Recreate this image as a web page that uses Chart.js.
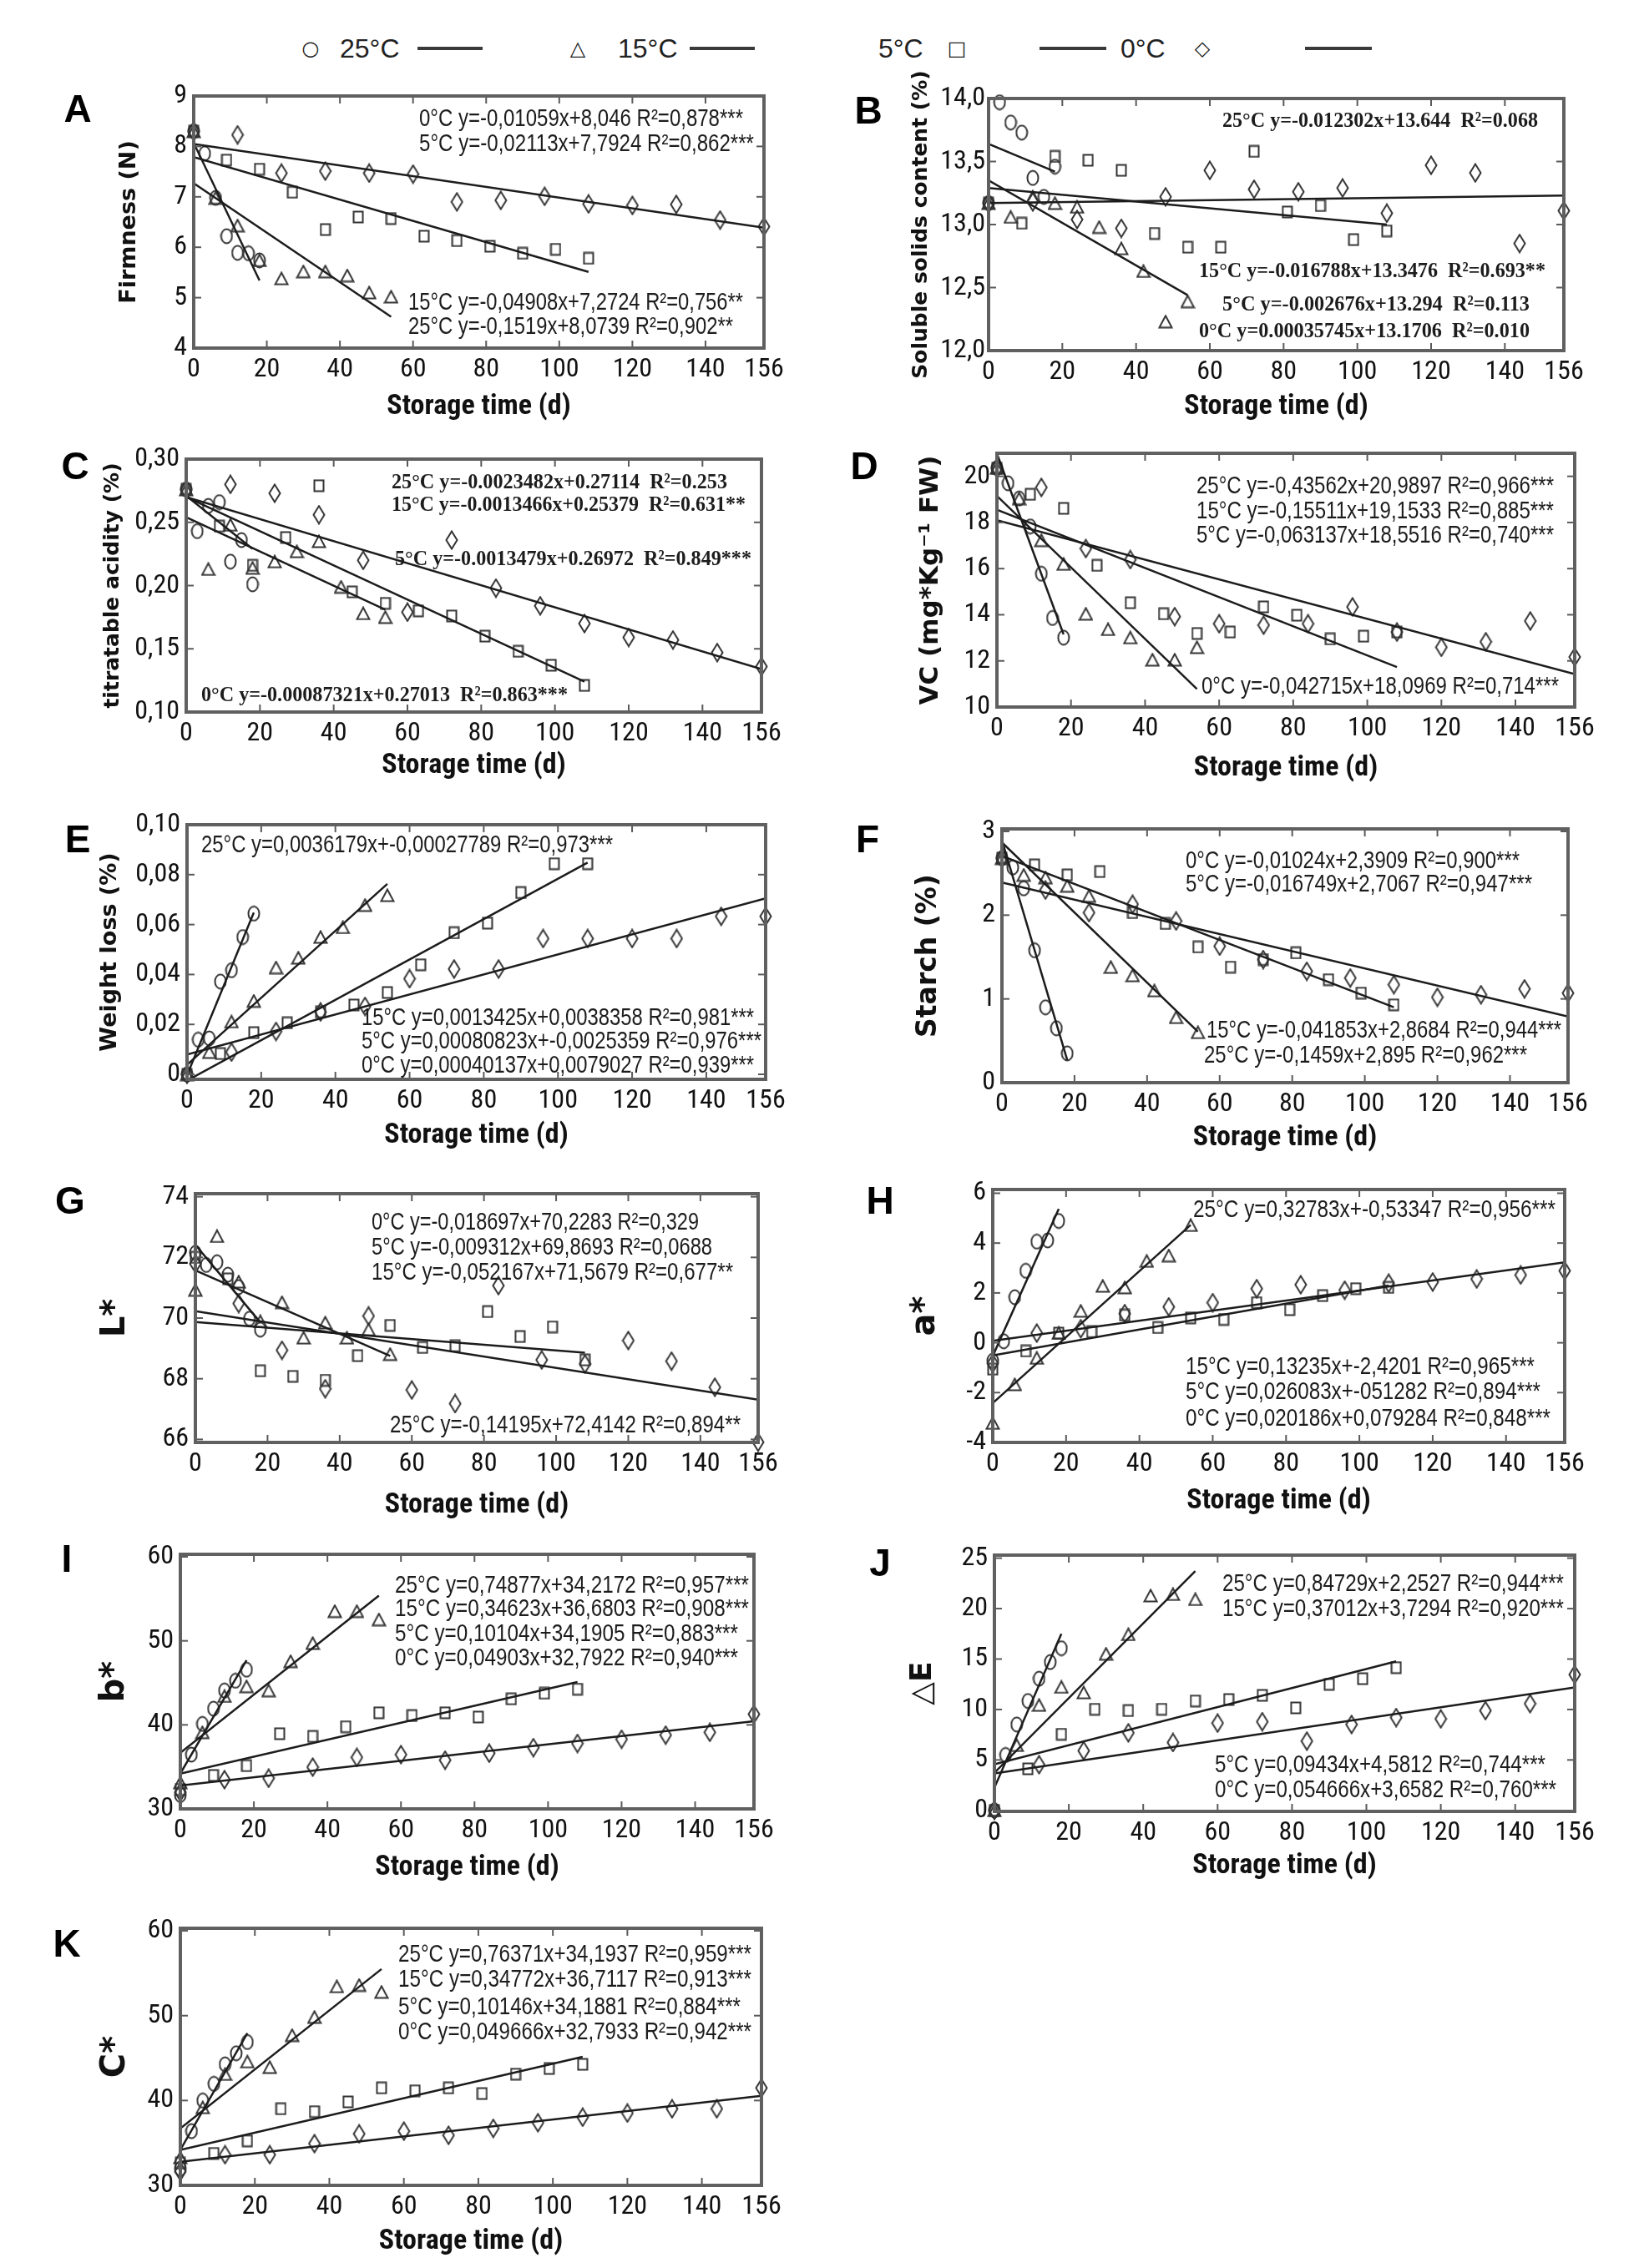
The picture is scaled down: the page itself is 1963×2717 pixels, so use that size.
<!DOCTYPE html>
<html>
<head>
<meta charset="utf-8">
<script src="https://cdn.jsdelivr.net/npm/chart.js@4.4.1/dist/chart.umd.min.js"></script>
<style>
  html, body { margin: 0; padding: 0; background: #fff; }
  #page { position: relative; width: 1963px; height: 2717px; overflow: hidden; background: #fff; }
  #page canvas { position: absolute; }
  .leg { position: absolute; top: 58px; transform: translateY(-50%); color: #222; line-height: 1; white-space: nowrap;
         font-family: "Liberation Sans", Arial, sans-serif; font-size: 32px; }
  .mark { font-family: "DejaVu Sans", sans-serif; font-size: 24px; transform: translate(-50%, -50%); }
  .bar { position: absolute; top: 56px; height: 4px; background: #3a3a3a; }
</style>
</head>
<body>
<div id="page">
  <span class="leg mark" style="left:372px">○</span>
  <span class="leg" style="left:407px">25°C</span>
  <div class="bar" style="left:500px;width:78px"></div>
  <span class="leg mark" style="left:692px">△</span>
  <span class="leg" style="left:740px">15°C</span>
  <div class="bar" style="left:826px;width:78px"></div>
  <span class="leg" style="left:1052px">5°C</span>
  <span class="leg mark" style="left:1146px">□</span>
  <div class="bar" style="left:1245px;width:80px"></div>
  <span class="leg" style="left:1342px">0°C</span>
  <span class="leg mark" style="left:1440px">◇</span>
  <div class="bar" style="left:1563px;width:80px"></div>
</div>
<script>
// sampling days of each storage temperature
const days25 = [0, 3, 6, 9, 12, 15, 18];
const days15 = [0, 6, 12, 18, 24, 30, 36, 42, 48, 54];
const days5 = [0, 9, 18, 27, 36, 45, 54, 63, 72, 81, 90, 99, 108];
const days0 = [0, 12, 24, 36, 48, 60, 72, 84, 96, 108, 120, 132, 144, 156];
const xTicks = [0, 20, 40, 60, 80, 100, 120, 140, 156];

// A - firmness
const firm25 = [8.30, 7.86, 6.98, 6.22, 5.89, 5.88, 5.74];
const firm15 = [8.30, 6.98, 6.43, 5.74, 5.38, 5.52, 5.52, 5.44, 5.10, 5.02];
const firm5 = [8.30, 7.73, 7.55, 7.09, 6.35, 6.60, 6.57, 6.22, 6.13, 6.02, 5.88, 5.96, 5.78];
const firm0 = [8.30, 8.23, 7.47, 7.51, 7.47, 7.45, 6.90, 6.93, 7.01, 6.86, 6.83, 6.85, 6.54, 6.41];
const firmFits = [[8.07, 5.34], [7.27, 4.62], [7.79, 5.51], [8.05, 6.39]];
const firmTicks = [4, 5, 6, 7, 8, 9];
const firmEq = ['0°C y=-0,01059x+8,046 R²=0,878***', '5°C y=-0,02113x+7,7924 R²=0,862***',
  '15°C y=-0,04908x+7,2724 R²=0,756**', '25°C y=-0,1519x+8,0739 R²=0,902**'];

// B - soluble solids
const ssc25 = [13.17, 13.97, 13.81, 13.73, 13.37, 13.22, 13.46];
const ssc15 = [13.17, 13.06, 13.22, 13.17, 13.14, 12.98, 12.81, 12.63, 12.23, 12.39];
const ssc5 = [13.17, 13.01, 13.54, 13.51, 13.43, 12.93, 12.82, 12.82, 13.58, 13.10, 13.15, 12.88, 12.95];
const ssc0 = [13.17, 13.18, 13.04, 12.97, 13.22, 13.43, 13.28, 13.26, 13.29, 13.09, 13.47, 13.41, 12.85, 13.11];
const sscFits = [[13.64, 13.42], [13.35, 12.44], [13.29, 13.00], [13.17, 13.23]];
const sscTicks = [12.0, 12.5, 13.0, 13.5, 14.0];
const sscEq = ['25°C y=-0.012302x+13.644  R²=0.068', '15°C y=-0.016788x+13.3476  R²=0.693**',
  '5°C y=-0.002676x+13.294  R²=0.113', '0°C y=0.00035745x+13.1706  R²=0.010'];

// C - titratable acidity
const ta25 = [0.276, 0.243, 0.263, 0.266, 0.219, 0.236, 0.201];
const ta15 = [0.276, 0.213, 0.248, 0.214, 0.219, 0.227, 0.235, 0.199, 0.178, 0.175];
const ta5 = [0.276, 0.247, 0.216, 0.238, 0.279, 0.195, 0.186, 0.180, 0.176, 0.160, 0.148, 0.137, 0.121];
const ta0 = [0.276, 0.280, 0.273, 0.256, 0.220, 0.179, 0.236, 0.198, 0.184, 0.170, 0.159, 0.157, 0.147, 0.136];
const taFits = [[0.271, 0.229], [0.254, 0.181], [0.270, 0.124], [0.270, 0.134]];
const taTicks = [0.10, 0.15, 0.20, 0.25, 0.30];
const taEq = ['25°C y=-0.0023482x+0.27114  R²=0.253', '15°C y=-0.0013466x+0.25379  R²=0.631**',
  '5°C y=-0.0013479x+0.26972  R²=0.849***', '0°C y=-0.00087321x+0.27013  R²=0.863***'];

// D - vitamin C
const vc25 = [20.36, 19.70, 19.04, 17.83, 15.78, 13.86, 13.01];
const vc15 = [20.36, 19.04, 17.23, 16.20, 14.04, 13.37, 13.01, 12.05, 12.05, 12.59];
const vc5 = [20.36, 19.22, 18.61, 16.14, 14.52, 14.04, 13.19, 13.25, 14.34, 13.98, 12.95, 13.07, 13.25];
const vc0 = [20.36, 19.52, 16.87, 16.39, 13.92, 13.61, 13.55, 13.61, 14.34, 13.25, 12.59, 12.83, 13.73, 12.17];
const vcFits = [[20.99, 13.15], [19.15, 10.78], [18.55, 11.73], [18.10, 11.43]];
const vcTicks = [10, 12, 14, 16, 18, 20];
const vcEq = ['25°C y=-0,43562x+20,9897 R²=0,966***', '15°C y=-0,15511x+19,1533 R²=0,885***',
  '5°C y=-0,063137x+18,5516 R²=0,740***', '0°C y=-0,042715x+18,0969 R²=0,714***'];

// E - weight loss
const wl25 = [0, 0.0139, 0.0144, 0.0372, 0.0417, 0.0550, 0.0644];
const wl15 = [0, 0.0089, 0.0211, 0.0294, 0.0428, 0.0467, 0.0550, 0.0589, 0.0678, 0.0717];
const wl5 = [0, 0.0083, 0.0167, 0.0206, 0.0250, 0.0278, 0.0328, 0.0439, 0.0567, 0.0606, 0.0728, 0.0844, 0.0844];
const wl0 = [0, 0.0089, 0.0172, 0.0250, 0.0272, 0.0383, 0.0422, 0.0422, 0.0544, 0.0544, 0.0544, 0.0544, 0.0633, 0.0633];
const wlFits = [[-0.0003, 0.0648], [0.0038, 0.0763], [-0.0025, 0.0848], [0.0079, 0.0705]];
const wlTicks = [0, 0.02, 0.04, 0.06, 0.08, 0.10];
const wlEq = ['25°C y=0,0036179x+-0,00027789 R²=0,973***', '15°C y=0,0013425x+0,0038358 R²=0,981***',
  '5°C y=0,00080823x+-0,0025359 R²=0,976***', '0°C y=0,00040137x+0,0079027 R²=0,939***'];

// F - starch
const st25 = [2.68, 2.57, 2.32, 1.58, 0.90, 0.65, 0.35];
const st15 = [2.68, 2.48, 2.45, 2.35, 2.23, 1.38, 1.28, 1.10, 0.78, 0.60];
const st5 = [2.68, 2.60, 2.48, 2.52, 2.03, 1.90, 1.62, 1.38, 1.47, 1.55, 1.23, 1.07, 0.93];
const st0 = [2.68, 2.30, 2.03, 2.13, 1.93, 1.63, 1.47, 1.33, 1.25, 1.17, 1.02, 1.05, 1.12, 1.07];
const stFits = [[2.895, 0.27], [2.868, 0.61], [2.707, 0.90], [2.391, 0.79]];
const stTicks = [0, 1, 2, 3];
const stEq = ['0°C y=-0,01024x+2,3909 R²=0,900***', '5°C y=-0,016749x+2,7067 R²=0,947***',
  '15°C y=-0,041853x+2,8684 R²=0,944***', '25°C y=-0,1459x+2,895 R²=0,962***'];

// G - L*
const lL25 = [72.15, 71.75, 71.84, 71.43, 71.02, 69.98, 69.62];
const lL15 = [70.93, 72.70, 71.20, 69.89, 70.52, 69.35, 69.85, 69.35, 69.62, 68.81];
const lL5 = [72.00, 71.29, 68.26, 68.08, 67.95, 68.76, 69.76, 69.03, 69.08, 70.21, 69.39, 69.71, 68.62];
const lL0 = [71.79, 70.48, 68.94, 67.67, 70.07, 67.63, 67.18, 71.07, 68.62, 68.49, 69.26, 68.58, 67.72, 65.91];
const lFits = [[72.41, 69.86], [71.57, 68.75], [69.87, 68.86], [70.23, 67.31]];
const lTicks = [66, 68, 70, 72, 74];
const lEq = ['0°C y=-0,018697x+70,2283 R²=0,329', '5°C y=-0,009312x+69,8693 R²=0,0688',
  '15°C y=-0,052167x+71,5679 R²=0,677**', '25°C y=-0,14195x+72,4142 R²=0,894**'];

// H - a*
const aA25 = [-0.72, 0.06, 1.83, 2.89, 4.06, 4.11, 4.89];
const aA15 = [-3.22, -1.67, -0.61, 0.39, 1.28, 2.28, 2.22, 3.28, 3.50, 4.72];
const aA5 = [-1.06, -0.33, 0.39, 0.44, 1.11, 0.61, 1.00, 0.94, 1.61, 1.33, 1.89, 2.17, 2.22];
const aA0 = [-0.83, 0.39, 0.56, 1.17, 1.44, 1.61, 2.17, 2.33, 2.11, 2.39, 2.44, 2.56, 2.72, 2.89];
const aFits = [[-0.53, 5.37], [-2.42, 4.73], [-0.51, 2.30], [0.08, 3.23]];
const aTicks = [-4, -2, 0, 2, 4, 6];
const aEq = ['25°C y=0,32783x+-0,53347 R²=0,956***', '15°C y=0,13235x+-2,4201 R²=0,965***',
  '5°C y=0,026083x+-051282 R²=0,894***', '0°C y=0,020186x+0,079284 R²=0,848***'];

// I - b*
const bB25 = [31.66, 36.46, 40.11, 41.93, 44.09, 45.25, 46.57];
const bB15 = [33.15, 39.11, 43.42, 44.58, 44.09, 47.57, 49.72, 53.53, 53.53, 52.54];
const bB5 = [32.32, 33.98, 35.14, 38.95, 38.62, 39.78, 41.44, 41.10, 41.44, 40.94, 43.09, 43.76, 44.25];
const bB0 = [31.99, 33.48, 33.65, 34.97, 36.13, 36.46, 35.80, 36.63, 37.29, 37.79, 38.29, 38.78, 39.11, 41.27];
const bFits = [[34.22, 47.70], [36.68, 55.38], [34.19, 45.10], [32.79, 40.44]];
const bTicks = [30, 40, 50, 60];
const bEq = ['25°C y=0,74877x+34,2172 R²=0,957***', '15°C y=0,34623x+36,6803 R²=0,908***',
  '5°C y=0,10104x+34,1905 R²=0,883***', '0°C y=0,04903x+32,7922 R²=0,940***'];

// J - delta E
const dE25 = [0, 5.49, 8.52, 10.85, 13.05, 14.70, 16.07];
const dE15 = [0, 6.46, 10.44, 12.23, 11.68, 15.52, 17.45, 21.29, 21.43, 20.93];
const dE5 = [0, 4.12, 7.55, 10.03, 9.89, 10.03, 10.85, 10.99, 11.40, 10.16, 12.50, 13.05, 14.15];
const dE0 = [0, 4.53, 5.91, 7.69, 6.73, 8.65, 8.79, 6.87, 8.52, 9.20, 9.07, 9.89, 10.58, 13.46];
const dEFits = [[2.25, 17.50], [3.73, 23.72], [4.58, 14.77], [3.66, 12.19]];
const dETicks = [0, 5, 10, 15, 20, 25];
const dEEq = ['25°C y=0,84729x+2,2527 R²=0,944***', '15°C y=0,37012x+3,7294 R²=0,920***',
  '5°C y=0,09434x+4,5812 R²=0,744***', '0°C y=0,054666x+3,6582 R²=0,760***'];

// K - C*
const cC25 = [31.97, 36.39, 40.00, 41.97, 44.26, 45.57, 46.89];
const cC15 = [33.28, 39.18, 43.11, 44.59, 43.93, 47.70, 49.84, 53.44, 53.61, 52.79];
const cC5 = [32.62, 33.77, 35.25, 39.02, 38.69, 39.84, 41.48, 41.15, 41.48, 40.82, 43.11, 43.77, 44.26];
const cC0 = [31.64, 33.61, 33.61, 34.92, 36.07, 36.39, 35.90, 36.72, 37.38, 38.03, 38.52, 39.02, 39.02, 41.48];
const cFits = [[34.19, 47.94], [36.71, 55.49], [34.19, 45.15], [32.79, 40.54]];
const cTicks = [30, 40, 50, 60];
const cEq = ['25°C y=0,76371x+34,1937 R²=0,959***', '15°C y=0,34772x+36,7117 R²=0,913***',
  '5°C y=0,10146x+34,1881 R²=0,884***', '0°C y=0,049666x+32,7933 R²=0,942***'];

const allDays = [days25, days15, days5, days0];

// layout of the 11 panels (page pixels); ts = y title font size
const panels = [
  { letter: 'A', lp: [93, 133], box: [232, 115, 915, 417], y: [4, 9], dec: 0, title: 'Firmness (N)', tx: 155, ts: 27, xdy: 70,
    vals: [firm25, firm15, firm5, firm0], fits: firmFits, ticks: firmTicks, eqs: firmEq,
    eqPos: [[502, 890, 143], [502, 903, 173], [489, 890, 363], [489, 878, 392]] },
  { letter: 'B', lp: [1040, 135], box: [1184, 118, 1873, 420], y: [12, 14], dec: 1, title: 'Soluble solids content (%)', tx: 1103, ts: 25, xdy: 67, gap: 4, serif: true,
    vals: [ssc25, ssc15, ssc5, ssc0], fits: sscFits, ticks: sscTicks, eqs: sscEq,
    eqPos: [[1464, 1842, 145], [1436, 1851, 325], [1464, 1832, 365], [1436, 1832, 397]] },
  { letter: 'C', lp: [90, 561], box: [223, 550, 912, 853], y: [0.10, 0.30], dec: 2, title: 'titratable acidity (%)', tx: 135, ts: 25, xdy: 64, serif: true,
    vals: [ta25, ta15, ta5, ta0], fits: taFits, ticks: taTicks, eqs: taEq,
    eqPos: [[469, 871, 578], [469, 893, 605], [473, 900, 670], [241, 680, 833]] },
  { letter: 'D', lp: [1035, 561], box: [1194, 543, 1886, 847], y: [10, 21], dec: 0, title: 'VC (mg*Kg⁻¹ FW)', tx: 1115, ts: 31, xdy: 73,
    vals: [vc25, vc15, vc5, vc0], fits: vcFits, ticks: vcTicks, eqs: vcEq,
    eqPos: [[1433, 1861, 583], [1433, 1861, 613], [1433, 1861, 642], [1439, 1867, 823]] },
  { letter: 'E', lp: [93, 1008], box: [224, 988, 917, 1293], y: [-0.002, 0.10], dec: 2, zero: true, title: 'Weight loss (%)', tx: 132, ts: 27, xdy: 67,
    vals: [wl25, wl15, wl5, wl0], fits: wlFits, ticks: wlTicks, eqs: wlEq,
    eqPos: [[241, 734, 1013], [433, 903, 1220], [433, 912, 1248], [433, 903, 1277]] },
  { letter: 'F', lp: [1039, 1008], box: [1200, 993, 1878, 1297], y: [0, 3.03], dec: 0, title: 'Starch (%)', tx: 1112, ts: 33, xdy: 66,
    vals: [st25, st15, st5, st0], fits: stFits, ticks: stTicks, eqs: stEq,
    eqPos: [[1420, 1820, 1032], [1420, 1835, 1060], [1445, 1870, 1235], [1442, 1829, 1265]] },
  { letter: 'G', lp: [84, 1441], box: [234, 1430, 908, 1728], y: [65.9, 74.1], dec: 0, title: 'L*', tx: 139, ts: 40, xdy: 75,
    vals: [lL25, lL15, lL5, lL0], fits: lFits, ticks: lTicks, eqs: lEq,
    eqPos: [[445, 837, 1465], [445, 853, 1495], [445, 878, 1525], [467, 887, 1708]] },
  { letter: 'H', lp: [1054, 1441], box: [1189, 1425, 1874, 1728], y: [-4, 6.15], dec: 0, title: 'a*', tx: 1109, ts: 40, xdy: 70,
    vals: [aA25, aA15, aA5, aA0], fits: aFits, ticks: aTicks, eqs: aEq,
    eqPos: [[1429, 1863, 1450], [1420, 1838, 1638], [1420, 1845, 1668], [1420, 1857, 1700]] },
  { letter: 'I', lp: [80, 1870], box: [216, 1862, 903, 2167], y: [30, 60.3], dec: 0, title: 'b*', tx: 138, ts: 40, xdy: 70,
    vals: [bB25, bB15, bB5, bB0], fits: bFits, ticks: bTicks, eqs: bEq,
    eqPos: [[473, 897, 1900], [473, 897, 1928], [473, 884, 1958], [473, 884, 1987]] },
  { letter: 'J', lp: [1054, 1875], box: [1191, 1863, 1886, 2170], y: [-0.1, 25.3], dec: 0, title: '△E', tx: 1106, ts: 36, xdy: 65,
    vals: [dE25, dE15, dE5, dE0], fits: dEFits, ticks: dETicks, eqs: dEEq,
    eqPos: [[1464, 1873, 1898], [1464, 1873, 1928], [1455, 1851, 2115], [1455, 1864, 2145]] },
  { letter: 'K', lp: [80, 2331], box: [216, 2310, 912, 2618], y: [30, 60.3], dec: 0, title: 'C*', tx: 139, ts: 40, xdy: 67,
    vals: [cC25, cC15, cC5, cC0], fits: cFits, ticks: cTicks, eqs: cEq,
    eqPos: [[477, 900, 2342], [477, 900, 2372], [477, 887, 2405], [477, 900, 2435]] }
];

const sans = '"Liberation Sans", Arial, sans-serif';
const ink = '#1c1c1c';

// use a narrow face for ticks when one is installed
function fontAvailable(name) {
  const g = document.createElement('canvas').getContext('2d');
  const s = 'mmmmmwwwlli0123456789';
  g.font = '40px monospace';
  const a = g.measureText(s).width;
  g.font = '40px "' + name + '", monospace';
  return g.measureText(s).width !== a;
}
const narrow = ['Liberation Sans Narrow', 'Roboto Condensed'].find(fontAvailable);
const tickFont = narrow ? { family: '"' + narrow + '"', size: 32 } : { family: sans, size: 28 };
const xTitleFont = narrow ? { family: '"' + narrow + '"', size: 34, weight: 'bold' } : { family: sans, size: 28, weight: 'bold' };

// hollow markers, a bit taller than wide like the printed glyphs
function marker(kind) {
  const w = { o: 16, t: 18, s: 14, d: 16 }[kind];
  const h = { o: 20, t: 17, s: 16, d: 24 }[kind];
  const c = document.createElement('canvas');
  c.width = w; c.height = h;
  const g = c.getContext('2d');
  g.strokeStyle = '#333'; g.lineWidth = 2;
  g.beginPath();
  if (kind === 'o') g.ellipse(w / 2, h / 2, w / 2 - 1.5, h / 2 - 1.5, 0, 0, Math.PI * 2);
  if (kind === 't') { g.moveTo(w / 2, 1.5); g.lineTo(w - 1.5, h - 1.5); g.lineTo(1.5, h - 1.5); g.closePath(); }
  if (kind === 's') g.rect(1.5, 1.5, w - 3, h - 3);
  if (kind === 'd') { g.moveTo(w / 2, 1.5); g.lineTo(w - 1.5, h / 2); g.lineTo(w / 2, h - 1.5); g.lineTo(1.5, h / 2); g.closePath(); }
  g.stroke();
  return c;
}
const markers = [marker('o'), marker('t'), marker('s'), marker('d')];

const fmt = (v, p) => (p.zero && v === 0) ? '0' : v.toFixed(p.dec).replace('.', ',');

// frame, inner ticks, panel letter and regression equations
const decor = {
  id: 'decor',
  afterDraw(chart, args, o) {
    const { ctx, chartArea: a, scales } = chart;
    const p = o.p;
    const line = (x1, y1, x2, y2) => { ctx.beginPath(); ctx.moveTo(x1, y1); ctx.lineTo(x2, y2); ctx.stroke(); };
    ctx.save();
    ctx.strokeStyle = '#5a5a5a';
    ctx.lineWidth = 2;
    xTicks.forEach(v => {
      if (v <= 0 || v >= 156) return;
      const px = scales.x.getPixelForValue(v);
      line(px, a.top, px, a.top + 9);
      line(px, a.bottom, px, a.bottom - 9);
    });
    p.ticks.forEach(v => {
      const py = scales.y.getPixelForValue(v);
      if (py <= a.top + 2 || py >= a.bottom - 2) return;
      line(a.left, py, a.left + 9, py);
      line(a.right, py, a.right - 9, py);
    });
    ctx.lineWidth = 4;
    ctx.strokeStyle = '#606060';
    ctx.strokeRect(a.left, a.top, a.right - a.left, a.bottom - a.top);

    ctx.fillStyle = '#000';
    ctx.textAlign = 'center';
    ctx.textBaseline = 'middle';
    ctx.font = 'bold 46px ' + sans;
    ctx.fillText(p.letter, p.lp[0] - o.ox, p.lp[1] - o.oy);

    ctx.fillStyle = ink;
    ctx.textAlign = 'left';
    ctx.font = p.serif ? 'bold 26px "Liberation Serif", serif' : '29px ' + sans;
    p.eqs.forEach((t, i) => {
      const [l, r, cy] = p.eqPos[i];
      ctx.fillText(t, l - o.ox, cy - o.oy, r - l);
    });
    ctx.restore();
  }
};

const page = document.getElementById('page');

panels.forEach(p => {
  const [bl, bt, br, bb] = p.box;
  const cx = bl - (bl < 600 ? 212 : 200);
  const cy = bt - 50;
  const cw = br + 50 - cx;
  const ch = bb + 100 - cy;
  const canvas = document.createElement('canvas');
  canvas.width = cw; canvas.height = ch;
  canvas.style.left = cx + 'px'; canvas.style.top = cy + 'px';
  canvas.style.width = cw + 'px'; canvas.style.height = ch + 'px';
  page.appendChild(canvas);

  const datasets = [];
  p.fits.forEach((f, i) => {
    const d = allDays[i];
    datasets.push({
      type: 'line',
      data: [{ x: 0, y: f[0] }, { x: d[d.length - 1], y: f[1] }],
      borderColor: ink, borderWidth: 2.5, pointRadius: 0, fill: false, tension: 0
    });
  });
  p.vals.forEach((vals, i) => {
    datasets.push({
      type: 'scatter',
      data: allDays[i].map((d, k) => ({ x: d, y: vals[k] })),
      pointStyle: markers[i],
      pointRadius: 9,
      clip: false
    });
  });

  const yLine = p.ts * 1.2;
  const xLine = xTitleFont.size * 1.2;

  new Chart(canvas, {
    data: { datasets },
    options: {
      responsive: false,
      animation: false,
      devicePixelRatio: 1,
      layout: { padding: { top: bt - cy, right: cx + cw - br, left: 0, bottom: 0 } },
      plugins: { legend: { display: false }, tooltip: { enabled: false }, decor: { p, ox: cx, oy: cy } },
      scales: {
        x: {
          type: 'linear', min: 0, max: 156,
          grid: { display: false, drawTicks: false },
          border: { display: false },
          afterBuildTicks: s => { s.ticks = xTicks.map(v => ({ value: v })); },
          afterFit: s => { s.height = cy + ch - bb; },
          ticks: { autoSkip: false, maxRotation: 0, padding: narrow ? 7 : 9, color: '#111',
                   font: tickFont, callback: v => String(v) },
          title: { display: true, text: 'Storage time (d)', color: '#111', font: xTitleFont,
                   padding: { top: 0, bottom: (cy + ch) - (bb + p.xdy) - xLine / 2 } }
        },
        y: {
          type: 'linear', min: p.y[0], max: p.y[1],
          grid: { display: false, drawTicks: false },
          border: { display: false },
          afterBuildTicks: s => { s.ticks = p.ticks.map(v => ({ value: v })); },
          afterFit: s => { s.width = bl - cx; },
          ticks: { padding: p.gap || 8, color: '#111', font: tickFont, callback: v => fmt(v, p) },
          title: { display: true, text: p.title, color: '#111',
                   font: { family: '"DejaVu Sans", sans-serif', size: p.ts, weight: 'bold' },
                   padding: { top: p.tx - cx - yLine / 2, bottom: 0 } }
        }
      }
    },
    plugins: [decor]
  });
});
</script>
</body>
</html>
